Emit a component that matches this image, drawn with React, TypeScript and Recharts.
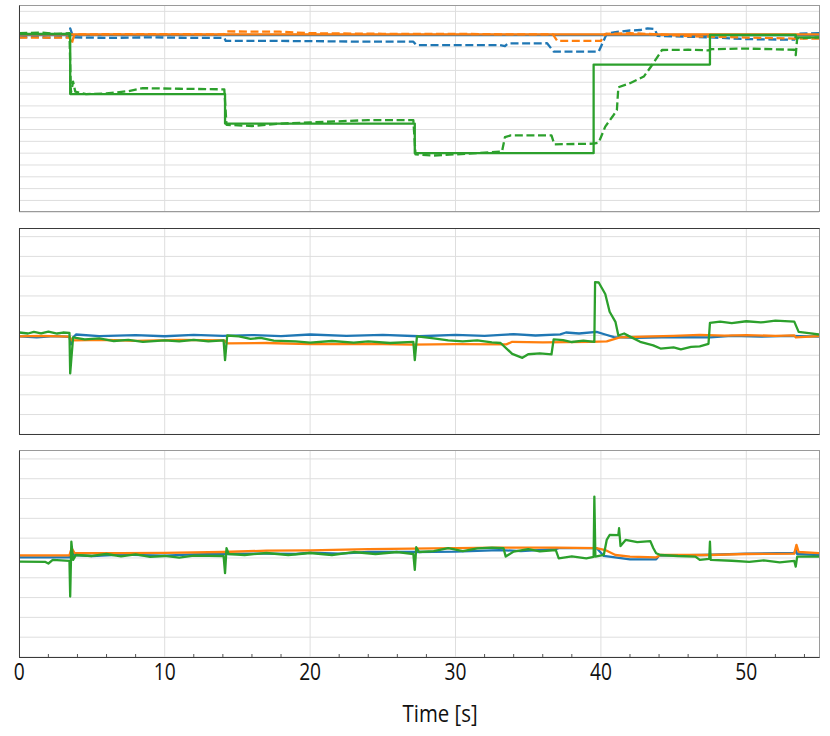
import React from 'react';
import { LineChart, Line, XAxis, YAxis, CartesianGrid } from 'recharts';

type Pt = [number, number];

const BLUE = '#1f77b4';
const ORANGE = '#ff7f0e';
const GREEN = '#2ca02c';

// x axis (time, s)
const X_MAJOR = [0, 10, 20, 30, 40, 50];
const X_TICKS = [0, 2, 4, 6, 8, 10, 12, 14, 16, 18, 20, 22, 24, 26, 28, 30, 32, 34, 36, 38, 40, 42, 44, 46, 48, 50, 52, 54];

// y gridlines (no labels in the figure)
const P1_Y_TICKS = [-15, -14, -13, -12, -11, -10, -9, -8, -7, -6, -5, -4, -3, -2, -1, 0, 1, 2];
const P23_Y_TICKS = [-5, -4, -3, -2, -1, 0, 1, 2, 3, 4, 5];

// ---- panel 1: references (solid) and measured (dashed)
const P1_BLUE_REF: Pt[] = [[0, 0], [55, 0]];
const P1_ORANGE_REF: Pt[] = [[0, 0.05], [55, 0.05]];
const P1_GREEN_REF: Pt[] = [[0, 0.1], [3.5, -5], [14.15, -7.5], [27.2, -10], [39.5, -2.5], [47.5, 0], [53.4, -0.2], [55, -0.2]];

const P1_BLUE_MEAS: Pt[] = [
  [0, -0.2], [1, -0.15], [2, -0.22], [3, -0.18], [3.45, -0.2], [3.5, 0.55], [3.6, 0.2], [3.7, -0.2], [6, -0.25], [9, -0.2],
  [12, -0.25], [14.1, -0.25], [14.2, -0.5], [17, -0.5], [20, -0.52], [24, -0.57], [27.1, -0.57], [27.3, -0.85], [30, -0.85],
  [33, -0.85], [33.4, -0.95], [33.6, -0.72], [36.3, -0.7], [36.75, -1.4], [39.85, -1.4], [40.4, 0.1], [41, 0.25], [42, 0.38],
  [42.7, 0.42], [43.2, 0.56], [43.7, 0.5], [43.9, -0.08], [47.5, -0.2], [50, -0.35], [53.3, -0.4], [53.5, 0.1], [55, 0.15],
];
const P1_ORANGE_MEAS: Pt[] = [
  [0, -0.23], [3.45, -0.23], [3.6, -0.75], [3.75, -0.1], [4, 0.05], [9, 0.08], [14.1, 0.05], [14.2, 0.3], [17.9, 0.28],
  [20, 0.15], [25, 0.1], [30, 0.1], [33.5, 0.05], [36.7, 0.05], [37, -0.5], [40, -0.5], [40.3, 0.1], [42, 0.15], [44, 0.05],
  [46, -0.1], [50, -0.22], [53.3, -0.3], [55, -0.3],
];
const P1_GREEN_MEAS: Pt[] = [
  [0, 0.15], [1.5, 0.2], [2.5, 0.1], [3.45, 0.15], [3.55, -4.9], [3.7, -3.95], [3.85, -4.8], [4.6, -5.0], [6, -4.95],
  [7.5, -4.75], [8.5, -4.5], [11, -4.55], [14.1, -4.6], [14.25, -7.6], [16, -7.7], [17.9, -7.5], [20, -7.4], [24, -7.2],
  [27.1, -7.2], [27.25, -10.1], [28.5, -10.2], [30, -10.1], [32, -9.95], [33.2, -9.85], [33.4, -8.65], [33.8, -8.5],
  [36.6, -8.5], [36.8, -9.25], [39.5, -9.2], [39.85, -9.1], [40.3, -7.75], [40.8, -6.9], [41.1, -6.35], [41.2, -4.42],
  [42, -4.08], [42.95, -3.52], [43.2, -3.1], [43.6, -2.4], [44.2, -1.27], [46, -1.25], [47.4, -1.3], [47.6, -1.2],
  [50, -1.15], [53.3, -1.25], [53.4, -1.7], [53.5, -0.28], [55, -0.2],
];

// ---- panel 2
const P2_BLUE: Pt[] = [
  [0, -0.05], [1.2, -0.1], [2.4, -0.03], [3.45, -0.07], [3.55, -0.45], [3.7, -0.1], [3.9, 0.05], [5.5, -0.03], [8, 0.02],
  [10, -0.04], [12, 0.03], [14, -0.02], [16, 0.02], [18, -0.03], [20, 0.05], [22.5, -0.02], [25, 0.03], [27.5, -0.04],
  [30, 0.03], [32, -0.02], [34, 0.07], [35.5, 0.0], [37.2, 0.06], [37.6, 0.15], [38.5, 0.1], [39.7, 0.18], [40.3, 0.05],
  [40.9, -0.08], [42.5, -0.12], [45, -0.08], [47.5, -0.1], [49, -0.02], [51, -0.06], [53, -0.02], [55, -0.06],
];
const P2_ORANGE: Pt[] = [
  [0, -0.05], [1.5, -0.02], [3.45, -0.06], [3.6, -0.25], [6, -0.22], [8, -0.27], [11, -0.22], [14.1, -0.25], [14.3, -0.4],
  [17, -0.38], [20, -0.44], [24, -0.42], [27, -0.46], [30, -0.44], [33.5, -0.45], [33.9, -0.32], [36, -0.35], [39.3, -0.32],
  [40.4, -0.3], [41.3, -0.1], [43.6, -0.05], [45, -0.02], [46.8, 0.03], [48.5, -0.01], [50, 0.02], [52, -0.02],
  [53.3, 0.01], [53.4, -0.1], [55, -0.03],
];
const P2_GREEN: Pt[] = [
  [0, 0.15], [0.6, 0.1], [1, 0.18], [1.5, 0.11], [2, 0.2], [2.6, 0.1], [3, 0.15], [3.45, 0.13], [3.5, -1.92], [3.6, -1.0],
  [3.7, -0.1], [4.5, -0.2], [5.5, -0.15], [6.5, -0.28], [7.5, -0.22], [8.5, -0.32], [10, -0.25], [11, -0.3], [12, -0.22],
  [13, -0.3], [14.05, -0.25], [14.15, -1.25], [14.3, 0.0], [15.1, -0.05], [15.9, -0.17], [16.6, -0.12], [17.5, -0.26],
  [19, -0.3], [20, -0.36], [21.5, -0.28], [23, -0.36], [24, -0.3], [25.5, -0.38], [27.1, -0.32], [27.2, -1.25],
  [27.35, -0.05], [28.5, -0.15], [29.5, -0.25], [30.5, -0.3], [31.5, -0.25], [32.5, -0.35], [33.1, -0.38], [33.9, -0.93],
  [34.6, -1.13], [35, -0.95], [35.8, -0.9], [36.6, -0.96], [36.75, -0.2], [37.4, -0.24], [38, -0.33], [38.8, -0.26],
  [39.55, -0.32], [39.6, 2.7], [39.85, 2.68], [40.3, 2.1], [40.6, 1.2], [41.0, 0.69], [41.2, 0.0], [41.6, 0.1],
  [41.9, -0.02], [42.7, -0.32], [43.6, -0.5], [44.1, -0.66], [45, -0.6], [45.5, -0.7], [46.2, -0.58], [46.8, -0.55],
  [47.4, -0.42], [47.5, 0.64], [48.2, 0.7], [49, 0.62], [50, 0.72], [51, 0.66], [52, 0.75], [53.3, 0.7], [53.6, 0.18],
  [54.3, 0.12], [55, 0.05],
];

// ---- panel 3
const P3_BLUE: Pt[] = [
  [0, 0.03], [3.45, 0.03], [3.55, 0.3], [3.8, 0.15], [5, 0.1], [7, 0.17], [10, 0.12], [12, 0.18], [14, 0.2], [17, 0.22],
  [19, 0.2], [20, 0.27], [22, 0.22], [24, 0.3], [27, 0.3], [30, 0.32], [33, 0.4], [34.5, 0.35], [36.9, 0.45], [37.1, 0.5],
  [39.7, 0.5], [40.2, 0.1], [42, -0.07], [43.8, -0.07], [44, 0.12], [47, 0.15], [50, 0.22], [53.3, 0.25], [53.4, 0.4],
  [53.5, 0.2], [55, 0.15],
];
const P3_ORANGE: Pt[] = [
  [0, 0.13], [3.45, 0.13], [3.6, 0.5], [3.8, 0.25], [7, 0.24], [10, 0.26], [14, 0.3], [17, 0.37], [20, 0.38], [24, 0.45],
  [27, 0.47], [30, 0.5], [33, 0.52], [36.9, 0.52], [39.7, 0.5], [40.3, 0.4], [41, 0.15], [42, 0.07], [43.8, 0.03],
  [44.1, 0.15], [47.5, 0.15], [50, 0.2], [53.3, 0.22], [53.45, 0.66], [53.6, 0.3], [55, 0.24],
];
const P3_GREEN: Pt[] = [
  [0, -0.19], [1.8, -0.2], [2.0, -0.28], [2.3, -0.1], [3.45, -0.15], [3.5, -1.95], [3.58, 0.82], [3.7, -0.1], [3.9, 0.15],
  [5, 0.1], [6, 0.2], [7, 0.08], [8, 0.18], [9, 0.05], [10, 0.1], [11, 0.02], [12, 0.12], [14.05, 0.1], [14.15, -0.77],
  [14.25, 0.49], [14.4, 0.2], [15.5, 0.15], [17, 0.25], [18.5, 0.15], [20, 0.25], [21.5, 0.15], [23, 0.3], [24.5, 0.2],
  [26, 0.3], [27.1, 0.2], [27.2, -0.6], [27.3, 0.54], [27.5, 0.3], [28.5, 0.35], [29.5, 0.5], [30.5, 0.35], [31.5, 0.48],
  [32.5, 0.52], [33.3, 0.5], [33.45, 0.07], [34, 0.32], [35, 0.45], [35.8, 0.33], [36.9, 0.4], [37.1, -0.02], [38, 0.08],
  [39, -0.02], [39.5, 0.05], [39.55, 3.1], [39.62, 0.07], [40.2, 0.15], [40.4, 0.91], [40.6, 1.16], [41.2, 1.15],
  [41.25, 1.5], [41.35, 0.6], [41.7, 0.91], [42.5, 0.8], [43.4, 0.85], [43.6, 0.5], [43.8, 0.24], [44.1, 0.15],
  [45.3, 0.1], [46.5, 0.07], [46.8, -0.1], [47.45, -0.05], [47.5, 0.82], [47.55, -0.1], [49, -0.14], [50.2, -0.2],
  [51.2, -0.12], [52.3, -0.22], [53.3, -0.15], [53.4, -0.44], [53.5, 0.07], [55, 0.07],
];

const toPts = (arr: Pt[]) => arr.map(([t, v]) => ({ t, v }));

interface Series {
  name: string;
  data: Pt[];
  color: string;
  dashed?: boolean;
  step?: boolean;
}

const P1_SERIES: Series[] = [
  { name: 'blue_ref', data: P1_BLUE_REF, color: BLUE },
  { name: 'blue_meas', data: P1_BLUE_MEAS, color: BLUE, dashed: true },
  { name: 'orange_meas', data: P1_ORANGE_MEAS, color: ORANGE, dashed: true },
  { name: 'orange_ref', data: P1_ORANGE_REF, color: ORANGE },
  { name: 'green_meas', data: P1_GREEN_MEAS, color: GREEN, dashed: true },
  { name: 'green_ref', data: P1_GREEN_REF, color: GREEN, step: true },
];
const P2_SERIES: Series[] = [
  { name: 'blue', data: P2_BLUE, color: BLUE },
  { name: 'orange', data: P2_ORANGE, color: ORANGE },
  { name: 'green', data: P2_GREEN, color: GREEN },
];
const P3_SERIES: Series[] = [
  { name: 'blue', data: P3_BLUE, color: BLUE },
  { name: 'orange', data: P3_ORANGE, color: ORANGE },
  { name: 'green', data: P3_GREEN, color: GREEN },
];

const FONT = '"Open Sans", "Noto Sans", sans-serif';

const YTick = (majorEvery: number) => (props: any) => {
  const { x, y, payload } = props;
  const len = payload.value % majorEvery === 0 ? 4.5 : 3;
  return <line x1={x - len} x2={x} y1={y} y2={y} stroke="#444" strokeWidth={1} />;
};

const XTick = (props: any) => {
  const { x, y, payload } = props;
  if (payload.value % 10 !== 0) {
    return <line x1={x} x2={x} y1={y} y2={y - 3} stroke="#555" strokeWidth={1} />;
  }
  return (
    <text
      transform={`translate(${x},${y + 22.5}) scale(0.8,1)`}
      textAnchor="middle"
      fontSize={24}
      fontFamily={FONT}
      fill="#111"
    >
      {payload.value}
    </text>
  );
};

const TimeLabel = (props: any) => {
  const vb = props.viewBox;
  return (
    <text
      transform={`translate(${vb.x + vb.width / 2 + 21},${vb.y + 64.7}) scale(0.85,1)`}
      textAnchor="middle"
      fontSize={24}
      fontFamily={FONT}
      fill="#111"
    >
      Time [s]
    </text>
  );
};

interface PanelProps {
  top: number;
  height: number;
  margin: { top: number; right: number; bottom: number; left: number };
  yDomain: [number, number];
  yTicks: number[];
  majorEvery: number;
  series: Series[];
  showX?: boolean;
}

const Panel: React.FC<PanelProps> = ({ top, height, margin, yDomain, yTicks, majorEvery, series, showX }) => (
  <div style={{ position: 'absolute', left: 0, top }}>
    <LineChart width={830} height={height} margin={margin}>
      <CartesianGrid stroke="#dedede" strokeWidth={1} verticalValues={X_MAJOR} horizontalValues={yTicks} />
      <XAxis
        type="number"
        dataKey="t"
        domain={[0, 55]}
        ticks={X_TICKS}
        allowDataOverflow
        hide={!showX}
        height={79}
        axisLine={false}
        tickLine={false}
        tickSize={0}
        tickMargin={0}
        interval={0}
        tick={XTick}
        label={showX ? { content: TimeLabel } : undefined}
      />
      <YAxis
        type="number"
        domain={yDomain}
        ticks={yTicks}
        allowDataOverflow
        width={0}
        axisLine={false}
        tickLine={false}
        tickSize={0}
        tickMargin={0}
        interval={0}
        tick={YTick(majorEvery)}
      />
      {series.map((s) => (
        <Line
          key={s.name}
          data={toPts(s.data)}
          dataKey="v"
          type={s.step ? 'stepAfter' : 'linear'}
          stroke={s.color}
          strokeWidth={2.3}
          strokeDasharray={s.dashed ? '8 3.6' : undefined}
          strokeLinejoin="round"
          dot={false}
          activeDot={false}
          isAnimationActive={false}
        />
      ))}
    </LineChart>
  </div>
);

const Frame: React.FC<{ top: number; t: string; r: string; b: string; l: string }> = ({ top, t, r, b, l }) => (
  <div
    style={{
      position: 'absolute',
      left: 18.8,
      top: top - 0.8,
      width: 801.2,
      height: 207.6,
      boxSizing: 'border-box',
      borderTop: t,
      borderRight: r,
      borderBottom: b,
      borderLeft: l,
      pointerEvents: 'none',
    }}
  />
);

const GREY = '1.6px solid #9a9a9a';
const DARK = '1.4px solid #3a3a3a';

export default function App() {
  return (
    <div style={{ position: 'absolute', left: 0, top: 0, width: 830, height: 736, background: '#fff' }}>
      <Panel
        top={0}
        height={220}
        margin={{ top: 5.67, right: 11, bottom: 8.33, left: 19.3 }}
        yDomain={[-14.95, 2.48]}
        yTicks={P1_Y_TICKS}
        majorEvery={5}
        series={P1_SERIES}
      />
      <Panel
        top={220}
        height={220}
        margin={{ top: 8.33, right: 11, bottom: 5.67, left: 19.3 }}
        yDomain={[-5, 5.42]}
        yTicks={P23_Y_TICKS}
        majorEvery={2}
        series={P2_SERIES}
      />
      <Panel
        top={440}
        height={296}
        margin={{ top: 11, right: 11, bottom: 0, left: 19.3 }}
        yDomain={[-5, 5.4]}
        yTicks={P23_Y_TICKS}
        majorEvery={2}
        series={P3_SERIES}
        showX
      />
      <Frame top={5.67} t={GREY} r={GREY} b={GREY} l={DARK} />
      <Frame top={228.33} t={DARK} r={GREY} b={DARK} l={DARK} />
      <Frame top={451} t={GREY} r={GREY} b={DARK} l={DARK} />
    </div>
  );
}
